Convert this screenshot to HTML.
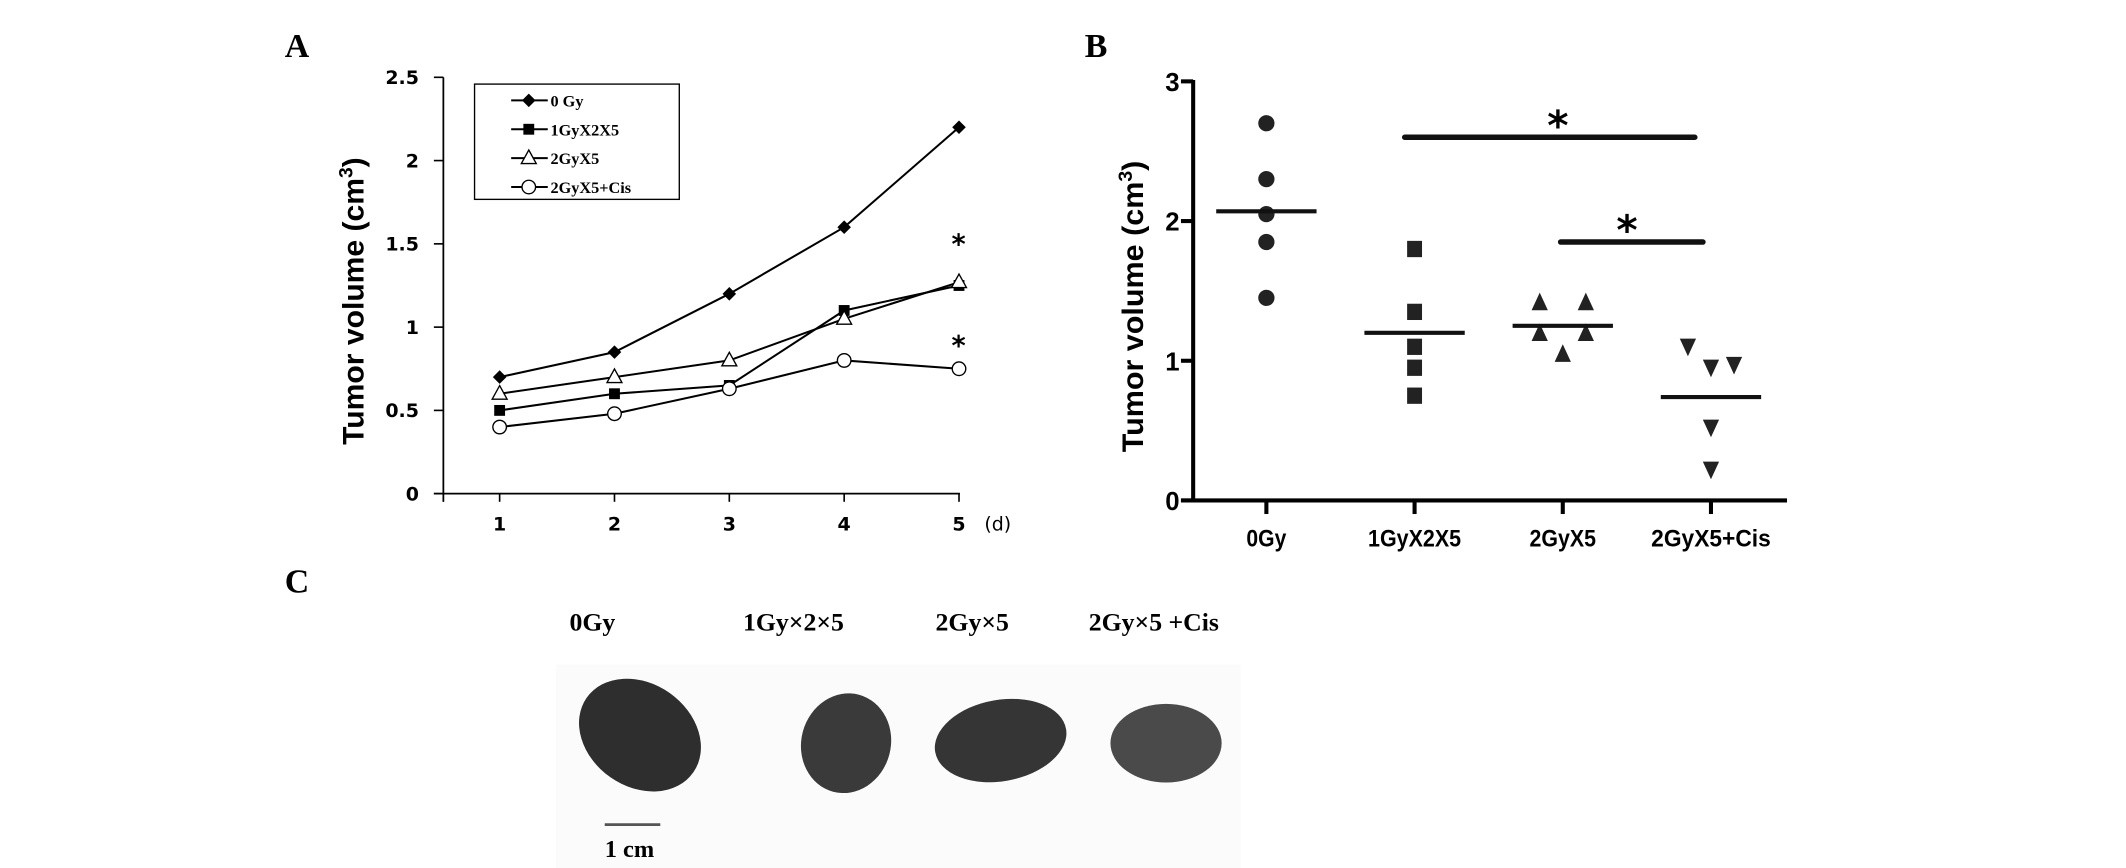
<!DOCTYPE html>
<html><head><meta charset="utf-8"><style>
html,body{margin:0;padding:0;background:#fff;}
svg{display:block;}
.sans{font-family:"DejaVu Sans","Liberation Sans",sans-serif;}
.lsans{font-family:"Liberation Sans",sans-serif;}
.serif{font-family:"Liberation Serif",serif;}
.mono{font-family:"Liberation Serif","Noto Serif CJK SC",serif;}
</style></head><body>
<svg id="fig" width="2126" height="868" viewBox="0 0 1568 640" preserveAspectRatio="none">
<text x="210" y="42" class="serif" font-size="25" font-weight="bold">A</text>
<text x="800" y="42" class="serif" font-size="25" font-weight="bold">B</text>
<text x="210" y="437" class="serif" font-size="25" font-weight="bold">C</text>
<g id="chartA"></g>
<g id="chartB"></g>
<g id="photo">
  <rect x="410" y="490" width="505" height="150" fill="#fbfbfb"/>
  <text x="420" y="465" class="serif" font-size="19" font-weight="bold">0Gy</text>
  <text x="548" y="465" class="serif" font-size="19" font-weight="bold">1Gy×2×5</text>
  <text x="690" y="465" class="serif" font-size="19" font-weight="bold">2Gy×5</text>
  <text x="803" y="465" class="serif" font-size="19" font-weight="bold">2Gy×5 +Cis</text>
  <ellipse cx="472" cy="542" rx="48" ry="38" fill="#2e2e2e" transform="rotate(35 472 542)"/>
  <ellipse cx="624" cy="548" rx="33" ry="37" fill="#3a3a3a" transform="rotate(15 624 548)"/>
  <ellipse cx="738" cy="546" rx="49" ry="30" fill="#353535" transform="rotate(-10 738 546)"/>
  <ellipse cx="860" cy="548" rx="41" ry="29" fill="#4a4a4a"/>
  <line x1="446" y1="608" x2="487" y2="608" stroke="#555" stroke-width="2"/>
  <text x="446" y="632" class="serif" font-size="18" font-weight="bold">1 cm</text>
</g>
</svg>
<script>
const NS="http://www.w3.org/2000/svg";
// Panel A data
const daysA=[1,2,3,4,5];
const yTicksA=[0,0.5,1,1.5,2,2.5];
const yTickLabelsA=["0","0.5","1","1.5","2","2.5"];
const seriesNamesA=["0 Gy","1GyX2X5","2GyX5","2GyX5+Cis"];
const s0Gy=[0.7,0.85,1.2,1.6,2.2];
const s1Gy=[0.5,0.6,0.65,1.1,1.25];
const s2Gy=[0.6,0.7,0.8,1.05,1.27];
const sCis=[0.4,0.48,0.63,0.8,0.75];
// Panel B data
const groupsB=["0Gy","1GyX2X5","2GyX5","2GyX5+Cis"];
const yTicksB=[0,1,2,3];
const pts0Gy=[2.7,2.3,2.05,1.85,1.45];
const pts1Gy=[1.8,1.35,1.1,0.95,0.75];
const pts2Gy=[1.42,1.42,1.2,1.2,1.05];
const ptsCis=[1.1,0.95,0.97,0.52,0.22];
const off2Gy=[-1,1,-1,1,0];
const offCis=[-1,0,1,0,0];
const meansB=[2.07,1.2,1.25,0.74];

function mk(tag,attrs,parent,txt){const e=document.createElementNS(NS,tag);for(const k in attrs)e.setAttribute(k,attrs[k]);if(txt!==undefined)e.textContent=txt;parent.appendChild(e);return e;}

// ---- Panel A
const A=document.getElementById('chartA');
const xA=d=>368.5+(d-1)*84.7;
const yA=v=>364-v*122.8;
mk('line',{x1:327,y1:57,x2:327,y2:370,stroke:'#000','stroke-width':1.3},A);
mk('line',{x1:320,y1:364,x2:708,y2:364,stroke:'#000','stroke-width':1.3},A);
yTicksA.forEach((t,i)=>{
  const l=mk('line',{x1:320,y1:yA(t),x2:327,y2:yA(t),stroke:'#000','stroke-width':1.2},A);
  
  
  const tx=mk('text',{x:309,y:yA(t)+5,'text-anchor':'end','font-size':14,'font-weight':'bold',class:'sans'},A,yTickLabelsA[i]);
  
  
});
daysA.forEach(d=>{
  const l=mk('line',{x1:xA(d),y1:364,x2:xA(d),y2:370,stroke:'#000','stroke-width':1.2},A);
  
  
  const tx=mk('text',{x:xA(d),y:391,'text-anchor':'middle','font-size':14,'font-weight':'bold',class:'sans'},A,String(d));
  
  
});
const du=mk('text',{x:726,y:391,'font-size':14,class:'sans'},A,'(d)');


const ytA=mk('text',{x:0,y:0,'font-size':22,'font-weight':'bold','text-anchor':'middle',class:'lsans',textLength:212,lengthAdjust:'spacingAndGlyphs',transform:'translate(268,222) rotate(-90)'},A);


ytA.innerHTML='Tumor volume (cm<tspan dy="-8" font-size="14">3</tspan><tspan dy="8">)</tspan>';

function marker(kind,x,y,parent){
  let e;
  if(kind===0) e=mk('polygon',{points:`${x},${y-5} ${x+5},${y} ${x},${y+5} ${x-5},${y}`,fill:'#000'},parent);
  else if(kind===1) e=mk('rect',{x:x-4,y:y-4,width:8,height:8,fill:'#000'},parent);
  else if(kind===2) e=mk('polygon',{points:`${x},${y-6} ${x+5.5},${y+4} ${x-5.5},${y+4}`,fill:'#fff',stroke:'#000','stroke-width':1},parent);
  else e=mk('circle',{cx:x,cy:y,r:5,fill:'#fff',stroke:'#000','stroke-width':1},parent);
  return e;
}
[s0Gy,s1Gy,s2Gy,sCis].forEach((s,k)=>{
  const pts=s.map((v,i)=>xA(daysA[i])+','+yA(v)).join(' ');
  const pl=mk('polyline',{points:pts,fill:'none',stroke:'#000','stroke-width':1.5},A);
  
  
});
[s0Gy,s1Gy,s2Gy,sCis].forEach((s,k)=>{
  s.forEach((v,i)=>{
    const m=marker(k,xA(daysA[i]),yA(v),A);
    
    
  });
});
[[707,s2Gy[4]+0.27],[707,sCis[4]+0.18]].forEach(p=>{
  const t=mk('text',{x:p[0],y:yA(p[1])+12,'text-anchor':'middle','font-size':20,'font-weight':'bold',class:'sans'},A,'*');
  
  
});
// legend
const lg=mk('g',{},A);


mk('rect',{x:350,y:62,width:151,height:85,fill:'#fff',stroke:'#000','stroke-width':1},lg);
seriesNamesA.forEach((n,k)=>{
  const y=74+k*21.3;
  const g=mk('g',{},lg);
  
  
  mk('line',{x1:377,y1:y,x2:404,y2:y,stroke:'#000','stroke-width':1.5},g);
  marker(k,390,y,g);
  mk('text',{x:406,y:y+4.5,'font-size':12,'font-weight':'bold',class:'mono'},g,n);
});

// ---- Panel B
const B=document.getElementById('chartB');
const xB=i=>934+i*109.3;
const yB=v=>369-v*103;
mk('line',{x1:880,y1:59,x2:880,y2:370,stroke:'#000','stroke-width':3},B);
mk('line',{x1:871,y1:369,x2:1318,y2:369,stroke:'#000','stroke-width':3},B);
yTicksB.forEach(t=>{
  const l=mk('line',{x1:871,y1:yB(t),x2:880,y2:yB(t),stroke:'#000','stroke-width':3},B);
  
  
  const tx=mk('text',{x:870,y:yB(t)+7,'text-anchor':'end','font-size':19,'font-weight':'bold',class:'lsans'},B,String(t));
  
  
});
groupsB.forEach((g,i)=>{
  const l=mk('line',{x1:xB(i),y1:369,x2:xB(i),y2:379,stroke:'#000','stroke-width':3},B);
  
  
  const tx=mk('text',{x:xB(i),y:403,'text-anchor':'middle','font-size':18,'font-weight':'bold',class:'lsans',textLength:g.length*9.8,lengthAdjust:'spacingAndGlyphs'},B,g);
  
  
});
const ytB=mk('text',{x:0,y:0,'font-size':22,'font-weight':'bold','text-anchor':'middle',class:'lsans',textLength:215,lengthAdjust:'spacingAndGlyphs',transform:'translate(843,226) rotate(-90)'},B);


ytB.innerHTML='Tumor volume (cm<tspan dy="-8" font-size="14">3</tspan><tspan dy="8">)</tspan>';
const dx=17;
pts0Gy.forEach(v=>{const c=mk('circle',{cx:xB(0),cy:yB(v),r:6,fill:'#222'},B);});
pts1Gy.forEach(v=>{const r=mk('rect',{x:xB(1)-5.5,y:yB(v)-6,width:11,height:12,fill:'#222'},B);});
pts2Gy.forEach((v,i)=>{const x=xB(2)+off2Gy[i]*dx,y=yB(v);const p=mk('polygon',{points:`${x},${y-7} ${x+6},${y+6} ${x-6},${y+6}`,fill:'#222'},B);});
ptsCis.forEach((v,i)=>{const x=xB(3)+offCis[i]*dx,y=yB(v);const p=mk('polygon',{points:`${x-6},${y-6} ${x+6},${y-6} ${x},${y+7}`,fill:'#222'},B);});
meansB.forEach((m,i)=>{const l=mk('line',{x1:xB(i)-37,y1:yB(m),x2:xB(i)+37,y2:yB(m),stroke:'#111','stroke-width':3},B);});
const sig1=mk('line',{x1:1036,y1:yB(2.6),x2:1250,y2:yB(2.6),stroke:'#111','stroke-width':4,'stroke-linecap':'round'},B);


const sig2=mk('line',{x1:1151,y1:yB(1.85),x2:1256,y2:yB(1.85),stroke:'#111','stroke-width':4,'stroke-linecap':'round'},B);


[[1149,yB(2.6)+2],[1200,yB(1.85)+2]].forEach(p=>{
  const t=mk('text',{x:p[0],y:p[1],'text-anchor':'middle','font-size':30,'font-weight':'bold',class:'sans'},B,'*');
  
  
});
</script>
</body></html>
